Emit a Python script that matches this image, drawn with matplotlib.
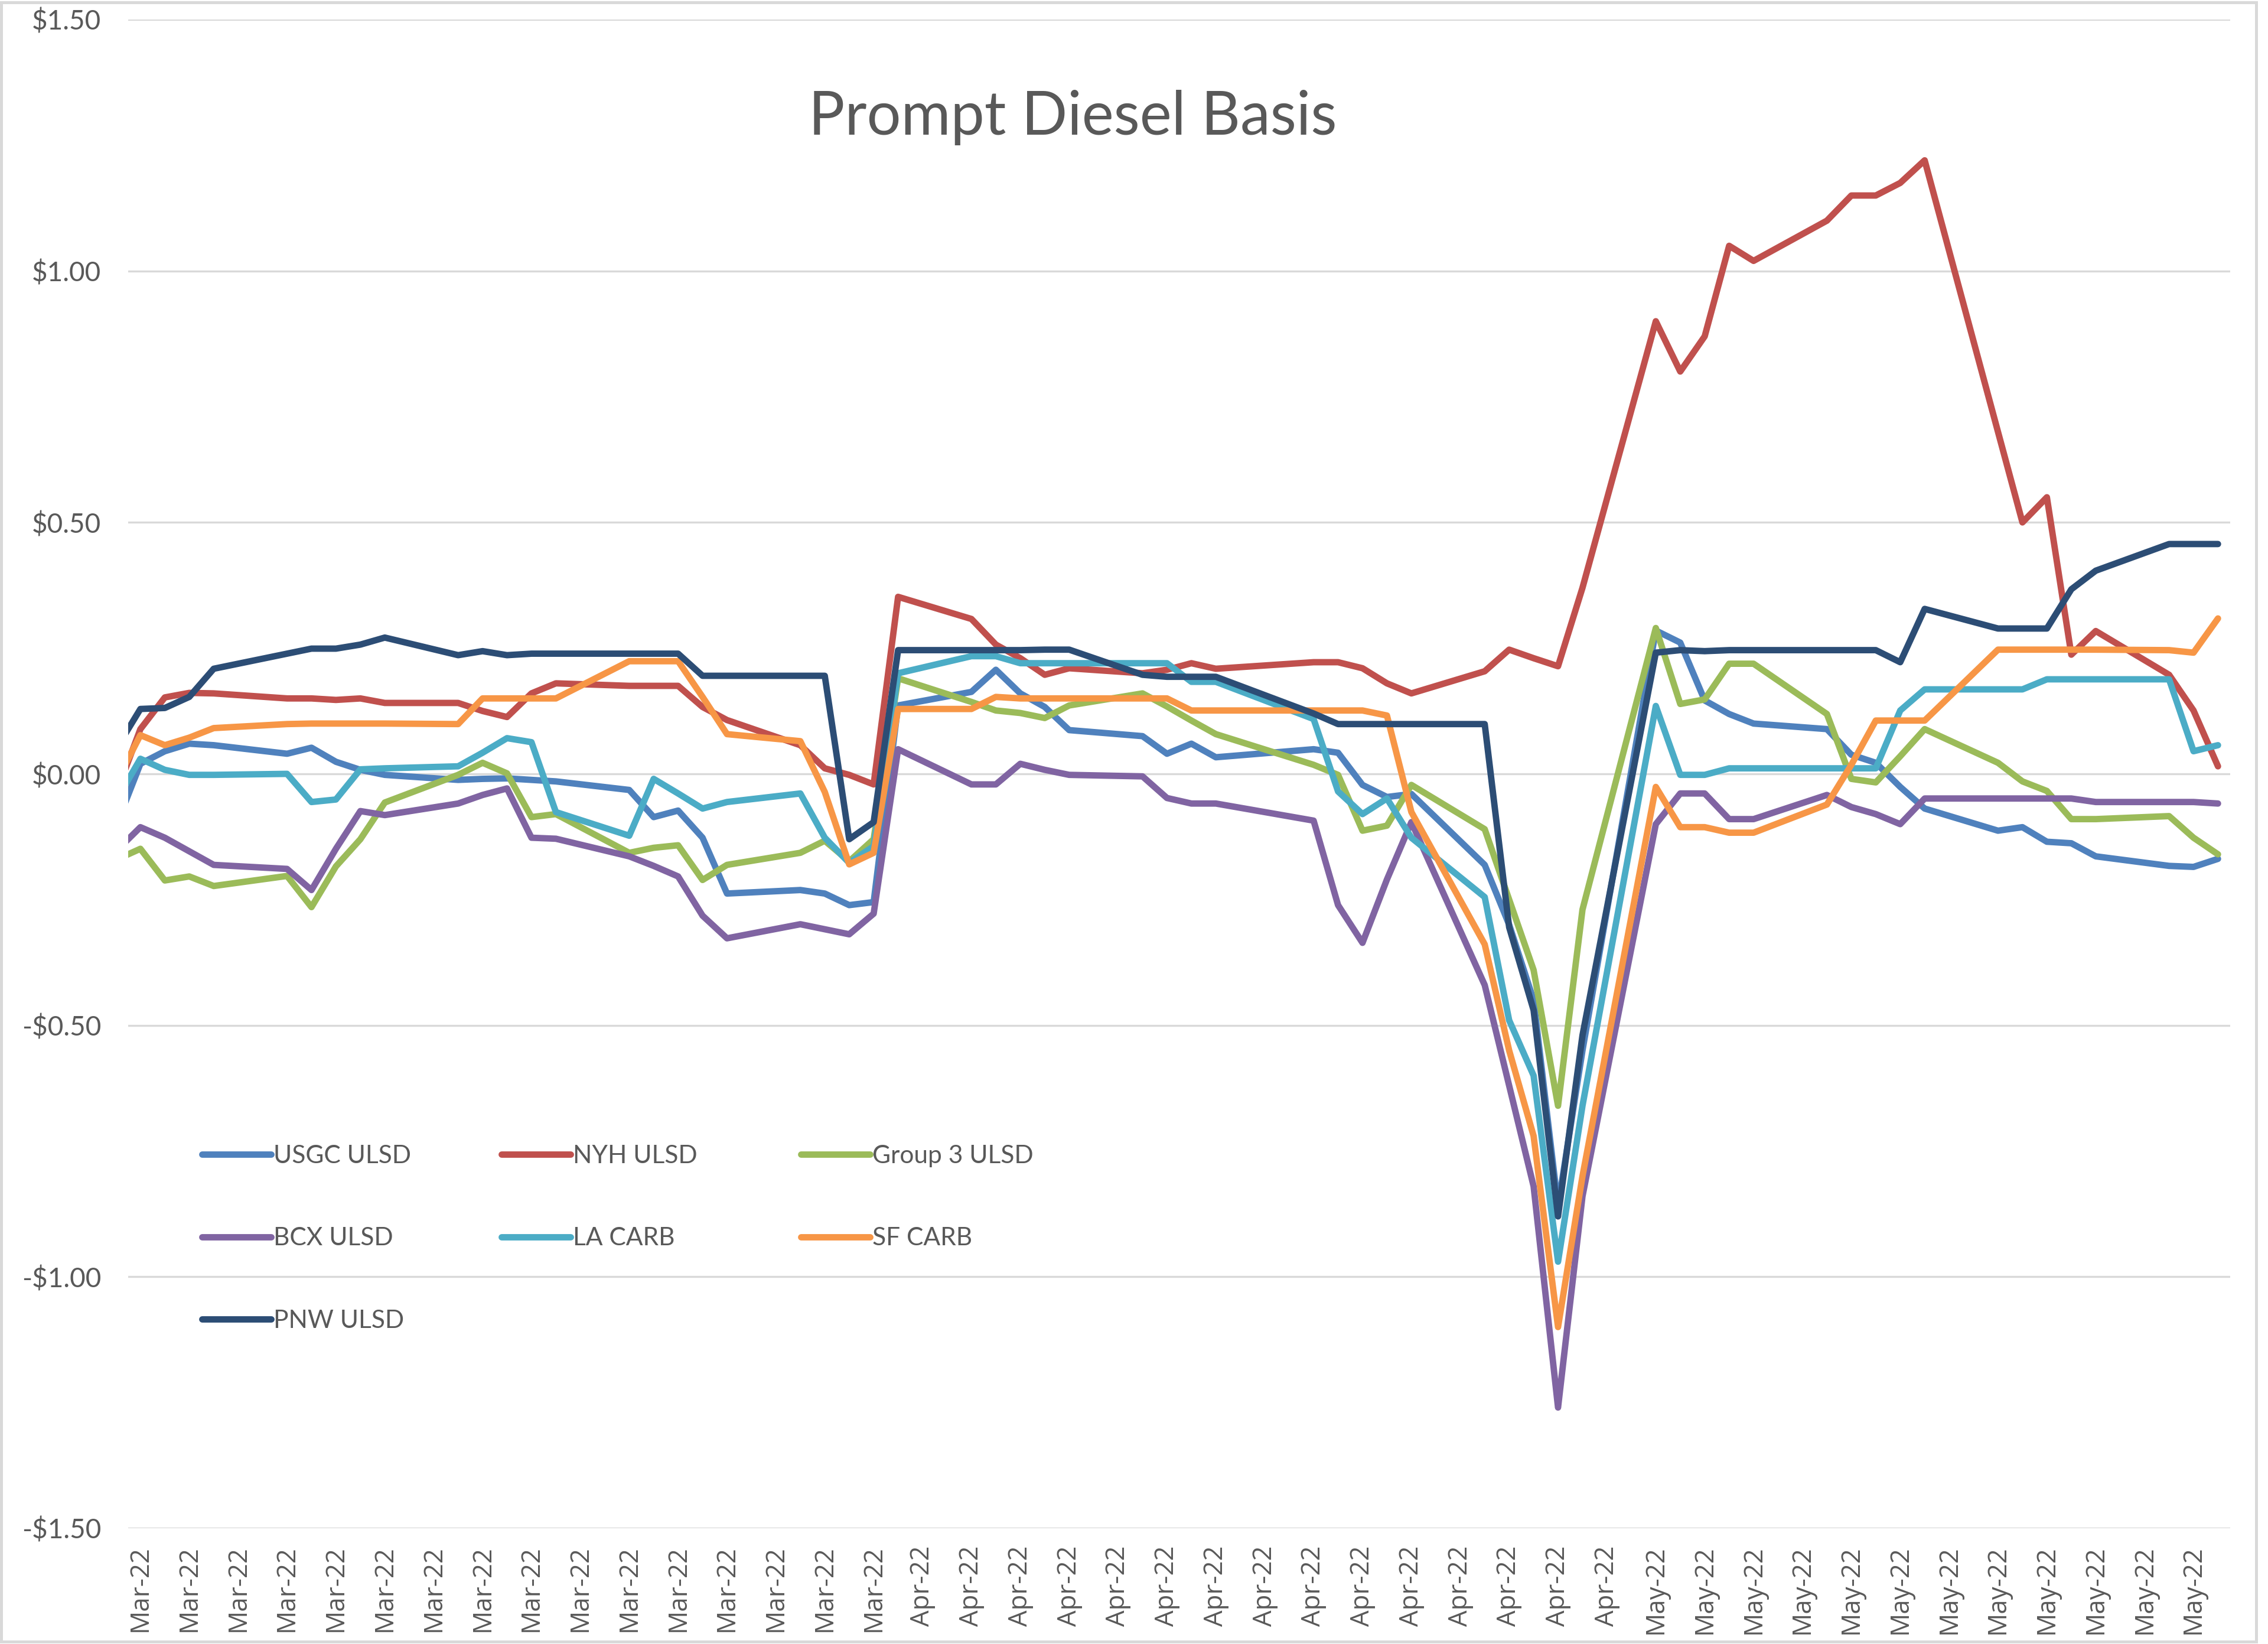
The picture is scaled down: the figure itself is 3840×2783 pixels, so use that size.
import matplotlib
matplotlib.use('Agg')
import matplotlib.pyplot as plt
import matplotlib.dates as mdates
from matplotlib.ticker import FuncFormatter
from matplotlib.patches import Rectangle
import numpy as np
import pandas as pd

dates = [
    "2022-02-28",
    "2022-03-01", "2022-03-02", "2022-03-03", "2022-03-04",
    "2022-03-07", "2022-03-08", "2022-03-09", "2022-03-10", "2022-03-11",
    "2022-03-14", "2022-03-15", "2022-03-16", "2022-03-17", "2022-03-18",
    "2022-03-21", "2022-03-22", "2022-03-23", "2022-03-24", "2022-03-25",
    "2022-03-28", "2022-03-29", "2022-03-30", "2022-03-31",
    "2022-04-01",
    "2022-04-04", "2022-04-05", "2022-04-06", "2022-04-07", "2022-04-08",
    "2022-04-11", "2022-04-12", "2022-04-13", "2022-04-14",
    "2022-04-18", "2022-04-19", "2022-04-20", "2022-04-21", "2022-04-22",
    "2022-04-25", "2022-04-26", "2022-04-27", "2022-04-28", "2022-04-29",
    "2022-05-02", "2022-05-03", "2022-05-04", "2022-05-05", "2022-05-06",
    "2022-05-09", "2022-05-10", "2022-05-11", "2022-05-12", "2022-05-13",
    "2022-05-16", "2022-05-17", "2022-05-18", "2022-05-19", "2022-05-20",
    "2022-05-23", "2022-05-24", "2022-05-25",
]

usgc_ulsd = [
    -0.104,
    0.020, 0.045, 0.060, 0.057,
    0.040, 0.052, 0.024, 0.008, -0.002,
    -0.012, -0.010, -0.009, -0.012, -0.015,
    -0.032, -0.086, -0.073, -0.127, -0.238,
    -0.231, -0.238, -0.261, -0.255,
    0.136,
    0.163, 0.207, 0.160, 0.133, 0.087,
    0.075, 0.040, 0.060, 0.033,
    0.049, 0.042, -0.022, -0.046, -0.040,
    -0.181, -0.300, -0.450, -0.860, -0.550,
    0.285, 0.261, 0.146, 0.119, 0.100,
    0.089, 0.038, 0.022, -0.026, -0.069,
    -0.113, -0.106, -0.135, -0.138, -0.164,
    -0.183, -0.185, -0.169,
]

nyh_ulsd = [
    -0.040,
    0.089, 0.152, 0.161, 0.160,
    0.150, 0.150, 0.147, 0.150, 0.141,
    0.141, 0.125, 0.113, 0.160, 0.180,
    0.175, 0.175, 0.175, 0.133, 0.107,
    0.057, 0.011, -0.002, -0.021,
    0.352,
    0.308, 0.257, 0.230, 0.197, 0.210,
    0.200, 0.207, 0.220, 0.209,
    0.222, 0.222, 0.210, 0.180, 0.160,
    0.204, 0.247, 0.230, 0.214, 0.370,
    0.900, 0.800, 0.870, 1.050, 1.020,
    1.100, 1.150, 1.150, 1.175, 1.220,
    0.680, 0.500, 0.550, 0.237, 0.284,
    0.197, 0.126, 0.015,
]

group3_ulsd = [
    -0.171,
    -0.149, -0.212, -0.204, -0.223,
    -0.203, -0.265, -0.184, -0.130, -0.057,
    -0.002, 0.022, 0.001, -0.086, -0.080,
    -0.157, -0.147, -0.142, -0.211, -0.181,
    -0.157, -0.133, -0.174, -0.130,
    0.190,
    0.143, 0.126, 0.121, 0.111, 0.136,
    0.160, 0.134, 0.106, 0.079,
    0.018, -0.002, -0.113, -0.103, -0.022,
    -0.110, -0.250, -0.390, -0.660, -0.270,
    0.290, 0.139, 0.148, 0.219, 0.219,
    0.119, -0.010, -0.017, 0.035, 0.089,
    0.022, -0.015, -0.034, -0.090, -0.090,
    -0.084, -0.127, -0.160,
]

bcx_ulsd = [
    -0.154,
    -0.106, -0.127, -0.154, -0.181,
    -0.189, -0.231, -0.149, -0.074, -0.082,
    -0.059, -0.042, -0.029, -0.127, -0.129,
    -0.164, -0.183, -0.204, -0.282, -0.327,
    -0.299, -0.309, -0.319, -0.278,
    0.049,
    -0.021, -0.021, 0.020, 0.008, -0.002,
    -0.005, -0.048, -0.059, -0.059,
    -0.093, -0.261, -0.336, -0.210, -0.096,
    -0.420, -0.620, -0.820, -1.260, -0.840,
    -0.100, -0.039, -0.039, -0.090, -0.090,
    -0.042, -0.066, -0.080, -0.100, -0.049,
    -0.049, -0.049, -0.049, -0.049, -0.056,
    -0.056, -0.056, -0.059,
]

la_carb = [
    -0.054,
    0.030, 0.008, -0.002, -0.002,
    0.000, -0.056, -0.051, 0.009, 0.011,
    0.015, 0.042, 0.071, 0.063, -0.076,
    -0.123, -0.010, -0.039, -0.069, -0.056,
    -0.039, -0.127, -0.177, -0.144,
    0.200,
    0.234, 0.234, 0.220, 0.220, 0.220,
    0.220, 0.220, 0.183, 0.183,
    0.109, -0.035, -0.080, -0.049, -0.127,
    -0.245, -0.490, -0.600, -0.970, -0.660,
    0.135, -0.002, -0.002, 0.011, 0.011,
    0.011, 0.011, 0.011, 0.126, 0.168,
    0.168, 0.168, 0.188, 0.188, 0.188,
    0.188, 0.045, 0.057,
]

sf_carb = [
    -0.017,
    0.077, 0.057, 0.072, 0.091,
    0.099, 0.100, 0.100, 0.100, 0.100,
    0.099, 0.150, 0.150, 0.150, 0.150,
    0.224, 0.224, 0.224, 0.153, 0.079,
    0.065, -0.036, -0.180, -0.157,
    0.129,
    0.129, 0.153, 0.150, 0.150, 0.150,
    0.150, 0.150, 0.126, 0.126,
    0.126, 0.126, 0.126, 0.116, -0.076,
    -0.339, -0.550, -0.720, -1.100, -0.800,
    -0.026, -0.106, -0.106, -0.117, -0.117,
    -0.061, 0.018, 0.106, 0.106, 0.106,
    0.247, 0.247, 0.247, 0.247, 0.247,
    0.246, 0.241, 0.309,
]

pnw_ulsd = [
    0.049,
    0.129, 0.131, 0.153, 0.209,
    0.239, 0.249, 0.249, 0.257, 0.271,
    0.236, 0.244, 0.236, 0.239, 0.239,
    0.239, 0.239, 0.239, 0.195, 0.195,
    0.195, 0.195, -0.130, -0.096,
    0.246,
    0.246, 0.246, 0.246, 0.247, 0.247,
    0.197, 0.193, 0.193, 0.193,
    0.120, 0.099, 0.099, 0.099, 0.099,
    0.099, -0.305, -0.470, -0.880, -0.520,
    0.241, 0.246, 0.244, 0.246, 0.246,
    0.246, 0.246, 0.246, 0.222, 0.328,
    0.289, 0.289, 0.289, 0.367, 0.404,
    0.457, 0.457, 0.457,
]

series_names = ["USGC ULSD", "NYH ULSD", "Group 3 ULSD", "BCX ULSD",
                "LA CARB", "SF CARB", "PNW ULSD"]
series_values = [usgc_ulsd, nyh_ulsd, group3_ulsd, bcx_ulsd,
                 la_carb, sf_carb, pnw_ulsd]
series_colors = ["#4F81BD", "#C0504D", "#9BBB59", "#8064A2",
                 "#4BACC6", "#F79646", "#2C4D75"]

title_text = "Prompt Diesel Basis"
axis_start = "2022-03-01"
axis_end = "2022-05-25"

TXT = "#595959"
GRID = "#D9D9D9"

W, H = 3840, 2783
fig = plt.figure(figsize=(W / 300, H / 300), dpi=300)
fig.patch.set_facecolor("white")

left_px, right_px, top_px, bot_px = 217, 3776, 33, 2587
ax = fig.add_axes([left_px / W, 1 - bot_px / H,
                   (right_px - left_px) / W, (bot_px - top_px) / H])

x = mdates.date2num(pd.to_datetime(dates).to_pydatetime())
lines = []
for name, vals, col in zip(series_names, series_values, series_colors):
    ln, = ax.plot(x, vals, color=col, lw=2.6, label=name,
                  solid_joinstyle="round", solid_capstyle="round",
                  clip_on=True)
    lines.append(ln)

ax.set_ylim(-1.5, 1.5)
ax.set_yticks(np.arange(-1.5, 1.51, 0.5))
ax.yaxis.set_major_formatter(
    FuncFormatter(lambda v, p: f"${v:.2f}" if v >= -1e-9 else f"-${-v:.2f}"))

start = pd.Timestamp(axis_start)
end = pd.Timestamp(axis_end)
ax.set_xlim(mdates.date2num(start) - 0.5, mdates.date2num(end) + 0.5)
ticks = pd.date_range(start, end, freq="2D")
ax.set_xticks(mdates.date2num(ticks.to_pydatetime()))
ax.xaxis.set_major_formatter(mdates.DateFormatter("%b-%y"))

ax.grid(axis="y", color=GRID, lw=0.8)
ax.grid(axis="x", visible=False)
ax.set_axisbelow(True)
for s in ax.spines.values():
    s.set_visible(False)
ax.tick_params(axis="both", length=0)
ax.tick_params(axis="y", pad=11, labelsize=11, labelcolor=TXT)
ax.tick_params(axis="x", pad=7, labelsize=10.5, labelcolor=TXT)
for lab in ax.get_yticklabels():
    lab.set_fontfamily("Lato")
for lab in ax.get_xticklabels():
    lab.set_fontfamily("Open Sans")
    lab.set_rotation(90)
    lab.set_ha("center")

# legend laid out row-wise in 3 evenly spaced columns (one legend per column)
columns = [[0, 3, 6], [1, 4], [2, 5]]
col_x = [0.0292, 0.1717, 0.3141]
legends = []
for cx, idxs in zip(col_x, columns):
    leg = ax.legend([lines[i] for i in idxs], [series_names[i] for i in idxs],
                    ncol=1, loc="upper left", bbox_to_anchor=(cx, 0.2625),
                    frameon=False, borderpad=0, handlelength=2.75,
                    handletextpad=0.1, labelspacing=2.39,
                    prop={"family": "Lato", "size": 10.2})
    for t in leg.get_texts():
        t.set_color(TXT)
    legends.append(leg)
for leg in legends[:-1]:
    ax.add_artist(leg)

fig.text(0.473, 0.9285, title_text, ha="center", va="center",
         fontsize=24.5, color=TXT, family="Lato")

fig.patches.append(Rectangle((2 / W, 4 / H), 3818 / W, 1 - 8 / H,
                             transform=fig.transFigure, fill=False,
                             edgecolor=GRID, lw=1.2))

fig.savefig("out.png", dpi=300, facecolor="white")
